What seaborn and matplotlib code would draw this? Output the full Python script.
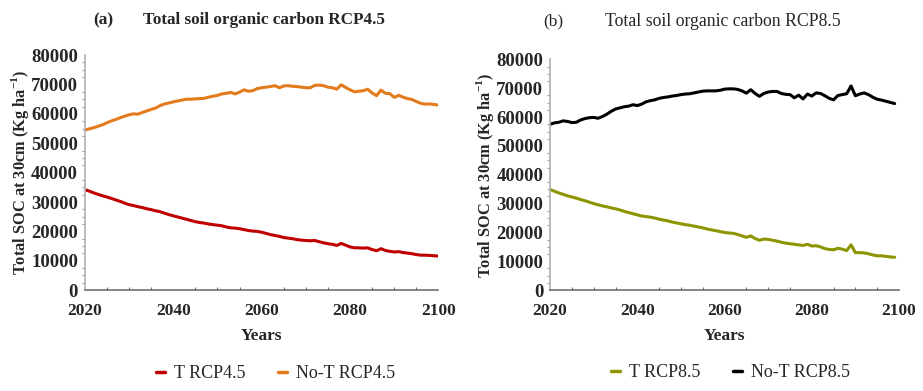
import numpy as np
import pandas as pd
import matplotlib
matplotlib.use("Agg")
import matplotlib.pyplot as plt
import seaborn as sns
from matplotlib.ticker import MultipleLocator

# yearly values
years_45 = list(range(2020, 2101))
years_85 = list(range(2020, 2100))

t_rcp45 = [34200, 33700, 33100, 32600, 32100, 31700, 31200, 30700, 30200, 29600,
           29100, 28800, 28400, 28100, 27700, 27400, 27000, 26700, 26200, 25700,
           25300, 24900, 24500, 24100, 23700, 23300, 23000, 22800, 22500, 22300,
           22100, 21900, 21500, 21200, 21100, 20900, 20600, 20300, 20100, 20000,
           19700, 19300, 18900, 18600, 18300, 17900, 17700, 17500, 17200, 17000,
           16900, 16800, 16900, 16500, 16100, 15800, 15600, 15200, 15900, 15300,
           14700, 14400, 14400, 14300, 14400, 13800, 13400, 14100, 13500, 13200,
           13000, 13100, 12800, 12600, 12400, 12100, 11900, 11900, 11800, 11700,
           11600]

not_rcp45 = [54500, 54900, 55300, 55800, 56300, 57000, 57600, 58100, 58700, 59200,
             59700, 60000, 59900, 60500, 61000, 61500, 62000, 62800, 63400, 63700,
             64100, 64400, 64700, 65000, 65000, 65100, 65200, 65300, 65700, 66000,
             66300, 66800, 67000, 67300, 66800, 67400, 68200, 67700, 67900, 68600,
             68900, 69100, 69300, 69600, 68900, 69500, 69600, 69400, 69300, 69100,
             68900, 68900, 69700, 69800, 69600, 69100, 68900, 68400, 69900, 69000,
             68200, 67500, 67700, 67900, 68400, 67100, 66200, 68100, 67000, 66900,
             65600, 66300, 65700, 65200, 64900, 64200, 63600, 63300, 63400, 63200,
             63000]

t_rcp85 = [34900, 34300, 33700, 33200, 32700, 32300, 31900, 31400, 31000, 30500,
           30000, 29600, 29200, 28900, 28500, 28200, 27800, 27300, 26900, 26500,
           26100, 25700, 25500, 25300, 25000, 24600, 24300, 24000, 23600, 23300,
           23000, 22700, 22500, 22200, 21900, 21600, 21200, 20900, 20600, 20300,
           20000, 19800, 19700, 19300, 18800, 18300, 18800, 17900, 17300, 17700,
           17600, 17300, 17000, 16600, 16300, 16100, 15900, 15700, 15500, 15900,
           15300, 15400, 15000, 14400, 14100, 14000, 14500, 14200, 13700, 15700,
           13000, 13000, 12900, 12600, 12200, 11900, 11900, 11700, 11500, 11400]

not_rcp85 = [57500, 58000, 58200, 58700, 58500, 58100, 58200, 59000, 59500, 59800,
             59900, 59600, 60200, 61000, 62000, 62800, 63200, 63600, 63800, 64300,
             64000, 64500, 65300, 65700, 66000, 66500, 66800, 67000, 67300, 67500,
             67800, 68000, 68100, 68400, 68700, 69000, 69100, 69100, 69100, 69300,
             69700, 69800, 69800, 69600, 69100, 68300, 69500, 68200, 67200, 68200,
             68700, 68900, 68900, 68200, 67900, 67800, 66700, 67600, 66300, 68000,
             67300, 68400, 68200, 67400, 66500, 66000, 67500, 67800, 68100, 70800,
             67400, 68000, 68400, 67800, 66900, 66200, 65900, 65500, 65100, 64700]

x_ticks = [2020, 2040, 2060, 2080, 2100]
y_ticks = [0, 10000, 20000, 30000, 40000, 50000, 60000, 70000, 80000]

df45 = pd.DataFrame({"Years": years_45 * 2,
                     "SOC": t_rcp45 + not_rcp45,
                     "Scenario": ["T RCP4.5"] * len(years_45) + ["No-T RCP4.5"] * len(years_45)})
df85 = pd.DataFrame({"Years": years_85 * 2,
                     "SOC": t_rcp85 + not_rcp85,
                     "Scenario": ["T RCP8.5"] * len(years_85) + ["No-T RCP8.5"] * len(years_85)})

sns.set_style("white")
plt.rcParams["font.family"] = ["Liberation Serif", "DejaVu Serif"]
plt.rcParams["mathtext.fontset"] = "custom"
plt.rcParams["mathtext.bf"] = "Liberation Serif:bold"
plt.rcParams["mathtext.rm"] = "Liberation Serif"

fig = plt.figure(figsize=(9.23, 3.91), dpi=100)
ax1 = fig.add_axes([0.092, 0.258, 0.383, 0.601])
ax2 = fig.add_axes([0.596, 0.258, 0.378, 0.590])

pal45 = {"T RCP4.5": "#c00000", "No-T RCP4.5": "#e37b1c"}
pal85 = {"T RCP8.5": "#8e9400", "No-T RCP8.5": "#000000"}

sns.lineplot(data=df45, x="Years", y="SOC", hue="Scenario", palette=pal45,
             linewidth=2.2, ax=ax1)
sns.lineplot(data=df85, x="Years", y="SOC", hue="Scenario", palette=pal85,
             linewidth=2.2, ax=ax2)

# tag text, title text, weight, title size, tag x, title x, y (axes fraction), legend x
panels = [("(a)", "Total soil organic carbon RCP4.5", "bold", 12.3, 0.023, 0.164, 1.149, 0.54),
          ("(b)", "Total soil organic carbon RCP8.5", "normal", 12.8, -0.02, 0.158, 1.166, 0.516)]

for ax, (tag, ttl, wt, tsz, tx, ttx, ty, lx) in zip([ax1, ax2], panels):
    ax.set_xlim(2020, 2100)
    ax.set_ylim(0, 80000)
    ax.set_xticks(x_ticks)
    ax.set_yticks(y_ticks)
    ax.xaxis.set_minor_locator(MultipleLocator(5))
    ax.yaxis.set_minor_locator(MultipleLocator(2500))
    for s in ["top", "right"]:
        ax.spines[s].set_visible(False)
    ax.spines["left"].set_color("#b0b0b0")
    ax.spines["bottom"].set_color("#707070")
    ax.spines["left"].set_linewidth(1.2)
    ax.spines["bottom"].set_linewidth(1.2)
    ax.tick_params(axis="y", which="major", direction="out", length=4, width=1,
                   color="#707070", labelsize=13.5, pad=1)
    ax.tick_params(axis="y", which="minor", direction="out", length=2, width=0.8,
                   color="#a0a0a0", left=True)
    ax.tick_params(axis="x", which="major", direction="in", length=4, width=1,
                   color="#707070", labelsize=12.5, pad=9)
    ax.tick_params(axis="x", which="minor", direction="in", length=2.5, width=0.8,
                   color="#707070", bottom=True)
    for lab in ax.get_xticklabels() + ax.get_yticklabels():
        lab.set_fontweight("bold")
    ax.set_xlabel("Years", fontsize=12.5, fontweight="bold", labelpad=7)
    ax.set_ylabel("Total SOC at 30cm (Kg ha$^{\\mathbf{-1}}$)", fontsize=11.8,
                  fontweight="bold", labelpad=0)
    ax.text(tx, ty, tag, transform=ax.transAxes, fontsize=12.5, fontweight=wt,
            ha="left", va="center")
    ax.text(ttx, ty, ttl, transform=ax.transAxes, fontsize=tsz, fontweight=wt,
            ha="left", va="center")
    leg = ax.legend(loc="upper center", bbox_to_anchor=(lx, -0.25), ncol=2,
                    frameon=False, fontsize=13, handlelength=0.5,
                    columnspacing=1.8, handletextpad=0.5)
    for line in leg.get_lines():
        line.set_linewidth(2.5)

fig.savefig("out.png", dpi=100)
